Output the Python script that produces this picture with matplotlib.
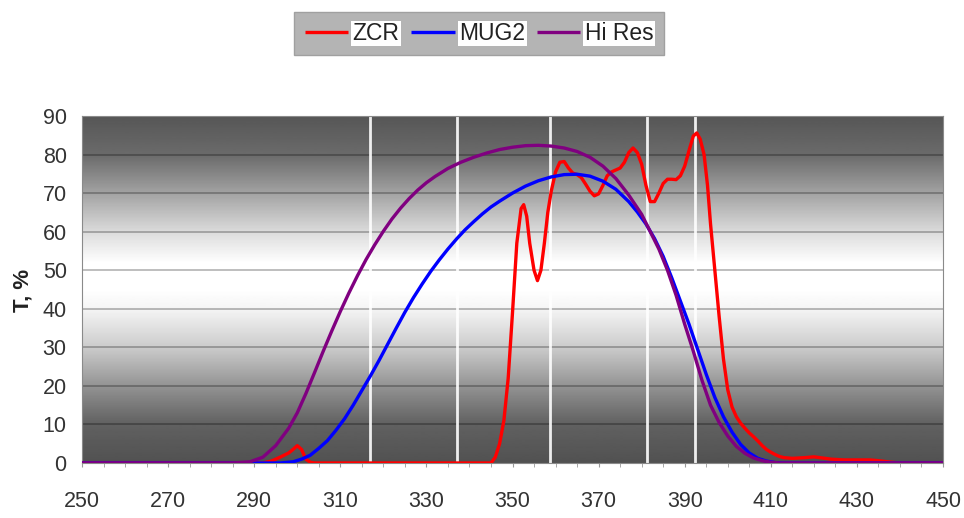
import numpy as np
import matplotlib
matplotlib.use("Agg")
import matplotlib.pyplot as plt
from matplotlib.ticker import MultipleLocator

plt.rcParams['font.family'] = ['Liberation Sans', 'DejaVu Sans']

# transmission curves, wavelength in nm, T in %
zcr_nm = [250, 292, 294, 296, 298, 299, 300, 301, 302, 303, 304, 345, 346, 347, 348, 349, 350,
          351, 352, 352.6, 353.3, 354, 355, 355.8, 356.6, 357.4, 358.2, 359, 360, 361, 362, 363,
          364, 365, 366, 367, 368, 369, 370, 371, 372, 373, 374, 375, 376, 377, 378, 379, 380,
          381, 382, 383, 384, 385, 386, 387, 388, 389, 390, 391, 392, 392.8, 393.6, 394.5, 395.3,
          396, 397, 398, 399, 400, 401, 402, 403, 404, 405, 406, 407, 408, 409, 410, 411, 412,
          413, 415, 418, 420, 422, 424, 427, 430, 433, 435, 438, 440, 450]
zcr_t = [0, 0, 0.5, 1.5, 2.6, 3.5, 4.5, 3.5, 1.0, 0.2, 0, 0, 1.5, 5, 11, 22, 39,
         57, 66, 67, 64, 57, 50, 47.3, 50, 57, 65, 70.5, 75.5, 78, 78.2, 76.5,
         75.2, 74.8, 74, 72.3, 70.5, 69.3, 69.8, 72, 74.5, 75.5, 76, 76.5, 78, 80.5, 81.7, 80.5, 77.5,
         72, 67.8, 67.8, 70, 72.5, 73.6, 73.6, 73.5, 74.5, 77, 81, 84.8, 85.6, 84, 80, 72,
         62, 50, 38, 27, 19, 14.5, 12, 10.3, 9, 7.8, 6.8, 5.7, 4.5, 3.5, 2.8, 2.2, 1.7,
         1.4, 1.2, 1.4, 1.6, 1.3, 1.0, 0.8, 0.8, 0.8, 0.6, 0.2, 0, 0]

mug2_nm = [250, 296, 299, 301, 303, 305, 307, 309, 311, 313, 315, 317, 319, 321, 323, 325, 327,
           329, 331, 333, 335, 337, 339, 341, 343, 345, 347, 350, 353, 356, 359, 362, 365, 368,
           371, 374, 377, 379, 381, 383, 385, 387, 389, 391, 393, 395, 397, 399, 401, 403, 405,
           407, 409, 411, 413, 450]
mug2_t = [0, 0, 0.3, 1, 2, 3.8, 5.8, 8.5, 11.5, 15, 18.8, 22.6, 26.6, 30.8, 35, 39.1, 42.9,
          46.4, 49.7, 52.7, 55.5, 58.1, 60.5, 62.6, 64.6, 66.4, 67.9, 70, 71.8, 73.2, 74.2, 74.8, 74.9, 74.4,
          73.1, 71, 67.8, 65.1, 62, 58.2, 53.6, 48, 42, 36, 29.5, 23, 17, 12, 8, 4.8, 2.6,
          1.2, 0.5, 0.1, 0, 0]

hires_nm = [250, 285, 289, 292, 295, 298, 300, 302, 304, 306, 308, 310, 312, 314, 316, 318, 320,
            322, 324, 326, 328, 330, 332, 335, 338, 341, 344, 347, 350, 353, 356, 359, 362, 365,
            368, 371, 374, 377, 380, 382, 384, 386, 388, 390, 392, 394, 396, 398, 400, 402, 404,
            406, 408, 410, 412, 450]
hires_t = [0, 0, 0.3, 1.5, 4.5, 9, 13, 18, 23.4, 28.9, 34.2, 39.3, 44.1, 48.6, 52.8, 56.6, 60.1,
           63.3, 66.1, 68.6, 70.8, 72.7, 74.3, 76.4, 78.0, 79.3, 80.4, 81.3, 81.9, 82.3, 82.4, 82.2, 81.7, 80.8,
           79.3, 77, 73.8, 69.5, 64.5, 60, 55.5, 50, 43.5, 36, 29, 21.5, 15, 10.5, 7, 4.3, 2.5,
           1.3, 0.6, 0.2, 0, 0]

# white marker lines across the plot
marker_nm = [316.8, 337.1, 358.8, 381.3, 392.3]

x_ticks = [250, 270, 290, 310, 330, 350, 370, 390, 410, 430, 450]

series = [("ZCR", zcr_nm, zcr_t, "#ff0000"),
          ("MUG2", mug2_nm, mug2_t, "#0000ff"),
          ("Hi Res", hires_nm, hires_t, "#800080")]

fig = plt.figure(figsize=(9.64, 5.18), dpi=100)
ax = fig.add_axes([82 / 964, 1 - 463 / 518, (943 - 82) / 964, (463 - 116) / 518])

# dark-white-dark vertical gradient behind the data
yy = np.linspace(0, 90, 300)
shade = np.interp(yy, [0, 10, 20, 30, 40, 45, 52, 60, 70, 80, 90],
                  [0.32, 0.38, 0.58, 0.80, 0.96, 1.0, 1.0, 0.86, 0.64, 0.42, 0.34])
ax.imshow(shade[::-1, None], extent=[250, 450, 0, 90], aspect='auto', cmap='gray',
          vmin=0, vmax=1, zorder=0, interpolation='bilinear')

for g in range(10, 90, 10):
    ax.axhline(g, color='black', alpha=0.3, lw=1.2, zorder=1)
for m in marker_nm:
    ax.axvline(m, color='white', lw=2, alpha=0.9, zorder=2)

for name, x, y, c in series:
    ax.plot(x, y, color=c, lw=2.4, label=name, zorder=3, solid_capstyle='butt')

ax.set_xlim(250, 450)
ax.set_ylim(0, 90)
ax.set_xticks(x_ticks)
ax.xaxis.set_minor_locator(MultipleLocator(5))
ax.yaxis.set_major_locator(MultipleLocator(10))
ax.tick_params(axis='x', which='both', length=3, color='#999999', labelsize=15.5,
               labelcolor='#333333', pad=17)
ax.tick_params(axis='y', length=0, labelsize=15.5, labelcolor='#333333', pad=11)
for s in ax.spines.values():
    s.set_color('#8a8a8a')
    s.set_linewidth(0.8)

fig.text(23 / 964, 1 - 290 / 518, "T, %", rotation=90, ha='center', va='center',
         fontsize=16, fontweight='bold', color='#222222')

leg = ax.legend(loc='center', bbox_to_anchor=(479 / 964, 1 - 33.5 / 518),
                bbox_transform=fig.transFigure, ncol=3, fontsize=16.5, frameon=True,
                fancybox=False, facecolor='#b4b4b4', edgecolor='#a0a0a0', framealpha=1,
                handlelength=1.9, handletextpad=0.2, columnspacing=0.5, borderpad=0.45)
leg.get_frame().set_linewidth(1)
for t in leg.get_texts():
    t.set_color('#222222')
    t.set_bbox(dict(facecolor='white', edgecolor='none', pad=1))

fig.savefig("out.png", dpi=100)
